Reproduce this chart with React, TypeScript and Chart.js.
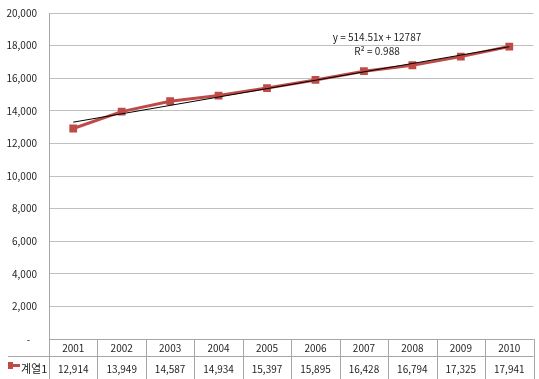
import React, { useEffect, useRef } from "react";
import { Chart, registerables } from "chart.js";

Chart.register(...registerables);

const years = ["2001", "2002", "2003", "2004", "2005", "2006", "2007", "2008", "2009", "2010"];
const values = [12914, 13949, 14587, 14934, 15397, 15895, 16428, 16794, 17325, 17941];
const seriesName = "계열1";
const trendSlope = 514.51;
const trendIntercept = 12787;
const trendEquation = "y = 514.51x + 12787";
const trendR2 = "R² = 0.988";
const yMin = 0;
const yMax = 20000;
const yStep = 2000;

const FONT = "'Noto Sans CJK KR', 'Noto Sans', sans-serif";
const RED = "#BE4B48";
const TEXT = "#1f1f1f";
const TABLE_LINE = "#a6a6a6";
const GRID = "#c0c0c0";

const fmt = (v: number) => v.toLocaleString("en-US");

const tablePlugin = {
  id: "dataTable",
  afterDraw(chart: any) {
    const { ctx, chartArea, scales } = chart;
    const x = scales.x;
    const n = years.length;
    const left = chartArea.left;
    const right = chartArea.right;
    const top = chartArea.bottom;
    const rowH = 17;
    const mid = top + rowH;
    const bottom = chart.height;
    const colW = (right - left) / n;
    ctx.save();
    ctx.strokeStyle = TABLE_LINE;
    ctx.lineWidth = 1;
    ctx.beginPath();
    ctx.moveTo(left, Math.round(top) + 0.5);
    ctx.lineTo(right, Math.round(top) + 0.5);
    ctx.moveTo(8, Math.round(mid) + 0.5);
    ctx.lineTo(right, Math.round(mid) + 0.5);
    for (let i = 0; i <= n; i++) {
      const xx = Math.round(left + i * colW) + 0.5;
      ctx.moveTo(xx, i === 0 ? chartArea.top : top);
      ctx.lineTo(xx, bottom);
    }
    ctx.stroke();

    ctx.fillStyle = TEXT;
    ctx.font = `10px ${FONT}`;
    ctx.textAlign = "center";
    ctx.textBaseline = "middle";
    for (let i = 0; i < n; i++) {
      const cx = x.getPixelForValue(i);
      ctx.fillText(years[i], cx, top + 9);
      ctx.fillText(fmt(values[i]), cx, mid + 13);
    }
    // legend key
    ctx.fillStyle = RED;
    ctx.fillRect(8, mid + 8, 12, 3);
    ctx.fillRect(8, mid + 6, 5, 7);
    ctx.fillStyle = TEXT;
    ctx.textAlign = "left";
    ctx.font = `11px ${FONT}`;
    ctx.fillText(seriesName, 21, mid + 13);

    // trendline label
    ctx.font = `10px ${FONT}`;
    ctx.textAlign = "center";
    const lx = left + (right - left) * 0.677;
    ctx.fillText(trendEquation, lx, 37);
    ctx.fillText(trendR2, lx, 51);
    ctx.restore();
  },
};

export default function App() {
  const ref = useRef<HTMLCanvasElement>(null);
  useEffect(() => {
    if (!ref.current) return;
    const chart = new Chart(ref.current, {
      type: "line",
      data: {
        labels: years,
        datasets: [
          {
            label: "trend",
            data: years.map((_, i) => trendIntercept + trendSlope * (i + 1)),
            borderColor: "#000000",
            borderWidth: 1,
            pointRadius: 0,
            fill: false,
          },
          {
            label: seriesName,
            data: values,
            borderColor: RED,
            backgroundColor: RED,
            borderWidth: 3,
            pointStyle: "rect",
            pointRadius: 5.5,
            pointBorderWidth: 0,
            fill: false,
          },
        ],
      },
      options: {
        responsive: false,
        animation: false,
        layout: { padding: { top: 13, bottom: 40, left: 0, right: 0 } },
        plugins: { legend: { display: false }, tooltip: { enabled: false } },
        scales: {
          x: { display: false, offset: true },
          y: {
            min: yMin,
            max: yMax,
            afterFit: (s: any) => {
              s.width = 49;
            },
            ticks: {
              stepSize: yStep,
              padding: 0,
              color: TEXT,
              font: { family: FONT, size: 10 },
              callback: (v: any) => (Number(v) === 0 ? "-   " : fmt(Number(v))),
            },
            grid: { color: GRID, drawTicks: true, tickLength: 12, tickColor: "rgba(0,0,0,0)" },
            border: { display: true, color: TABLE_LINE },
          },
        },
      },
      plugins: [tablePlugin],
    });
    return () => chart.destroy();
  }, []);
  return (
    <div style={{ position: "absolute", left: 0, top: 0, width: 539, height: 379, background: "#fff" }}>
      <canvas ref={ref} width={539} height={379} style={{ display: "block" }} />
    </div>
  );
}
